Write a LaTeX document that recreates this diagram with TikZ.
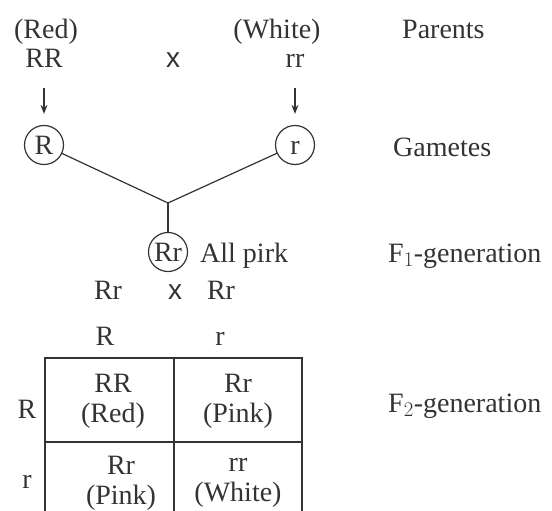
\documentclass[tikz,border=0pt]{standalone}
\usepackage{fontspec}
\setmainfont{Liberation Serif}
\newfontfamily\crossfont{Liberation Sans}
\usetikzlibrary{arrows.meta}
\definecolor{ink}{gray}{0.2}
\tikzset{
  every node/.style={font=\fontsize{28}{30}\selectfont, text=ink, inner sep=0pt},
  lbl/.style={anchor=base},
  lblw/.style={anchor=base west},
  cross/.style={anchor=base, font=\fontsize{28}{30}\crossfont},
  gam/.style={circle, draw=ink, line width=1.2pt, minimum size=39pt,
    text height=19pt, text depth=0pt},
  cell/.style={align=center},
  link/.style={draw=ink, line width=1.2pt},
  arr/.style={link, -{Stealth[length=9pt,width=7pt]}},
}
\begin{document}
\begin{tikzpicture}[x=1pt,y=-1pt]
  \useasboundingbox (0,0) rectangle (552,511);
  \clip (0,0) rectangle (552,511);
  % parents
  \draw
    (46,39) node[lbl] (pRed){(Red)}
    (277,39) node[lbl] (pWhite){(White)}
    (402,39) node[lblw] (tPar){Parents}
    (44,68) node[lbl] (RR){RR}
    (173,68) node[cross] (x1){x}
    (295,68) node[lbl] (rr){rr};
  % gametes
  \draw
    (44,145) node[gam] (gR){R}
    (295,145) node[gam] (gr){r}
    (393,156) node[lblw] (tGam){Gametes};
  \coordinate (jn) at (168,203);
  % F1
  \draw
    (168,252) node[gam] (f1){Rr}
    (200,262) node[lblw] (pink){All pirk}
    (388,262) node[lblw] (tF1){F$_1$-generation}
    (108,299) node[lbl] (s1){Rr}
    (175,299) node[cross] (x2){x}
    (221,299) node[lbl] (s2){Rr};
  \begin{scope}[link]
    \draw[arr, shorten <=20pt, shorten >=11pt] (RR) -- (gR);
    \draw[arr, shorten <=20pt, shorten >=11pt] (rr) -- (gr);
    \draw (gR) -- (jn) -- (gr);
    \draw (jn) -- (f1);
  \end{scope}
  % F2 checkerboard
  \draw
    (105,345) node[lbl] (cR){R}
    (220,345) node[lbl] (cr){r}
    (27,418) node[lbl] (rR){R}
    (27,488) node[lbl] (rr2){r}
    (113,401) node[cell] (c11){RR\\(Red)}
    (238,401) node[cell] (c12){Rr\\(Pink)}
    (121,483) node[cell] (c21){Rr\\(Pink)}
    (238,483) node[cell] (c22){rr\\(White)}
    (388,412) node[lblw] (tF2){F$_2$-generation};
  \draw[link] (45,358) rectangle (302,526);
  \draw[link] (174,358) -- (174,526);
  \draw[link] (45,442) -- (302,442);
\end{tikzpicture}
\end{document}
